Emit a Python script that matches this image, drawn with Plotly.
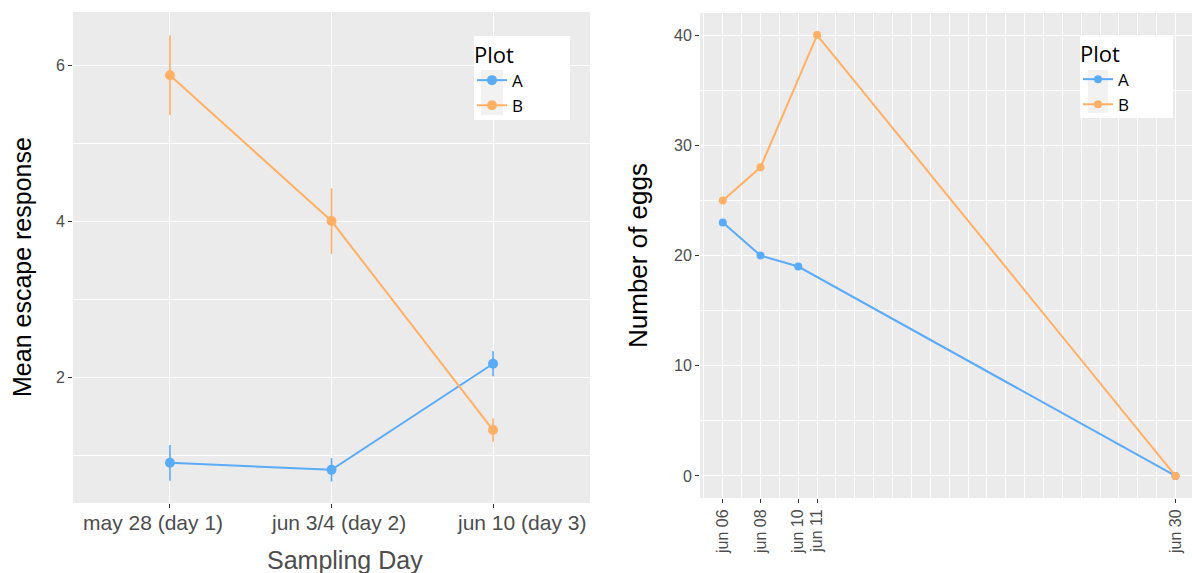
import plotly.graph_objects as go

# ---- Left panel data ----
days = ["may 28 (day 1)", "jun 3/4 (day 2)", "jun 10 (day 3)"]
day_pos = [0, 1, 2]
escape_A = [0.90, 0.81, 2.17]
escape_A_err = [0.23, 0.15, 0.16]
escape_B = [5.87, 4.00, 1.32]
escape_B_err = [0.51, 0.42, 0.15]

# ---- Right panel data ----
dates_A = ["2019-06-06", "2019-06-08", "2019-06-10", "2019-06-30"]
eggs_A = [23, 20, 19, 0]
dates_B = ["2019-06-06", "2019-06-08", "2019-06-11", "2019-06-30"]
eggs_B = [25, 28, 40, 0]
date_ticks = ["2019-06-06", "2019-06-08", "2019-06-10", "2019-06-11", "2019-06-30"]
date_ticktext = ["jun 06", "jun 08", "jun 10", "jun 11", "jun 30"]

COL_A = "#5aabf8"
COL_B = "#ffb064"
PANEL = "#ebebeb"
KEYBG = "#f2f2f2"
W, H = 1192, 573

def px(x):
    return x / W

def py(y):
    return 1 - y / H

fig = go.Figure()

fig.add_trace(go.Scatter(
    x=day_pos, y=escape_A, mode="lines+markers", name="A",
    line=dict(color=COL_A, width=2), marker=dict(color=COL_A, size=10),
    error_y=dict(type="data", array=escape_A_err, color=COL_A, thickness=1.6, width=0),
    xaxis="x", yaxis="y", legend="legend"))
fig.add_trace(go.Scatter(
    x=day_pos, y=escape_B, mode="lines+markers", name="B",
    line=dict(color=COL_B, width=2), marker=dict(color=COL_B, size=10),
    error_y=dict(type="data", array=escape_B_err, color=COL_B, thickness=1.6, width=0),
    xaxis="x", yaxis="y", legend="legend"))

fig.add_trace(go.Scatter(
    x=dates_A, y=eggs_A, mode="lines+markers", name="A",
    line=dict(color=COL_A, width=2), marker=dict(color=COL_A, size=8),
    xaxis="x2", yaxis="y2", legend="legend2"))
fig.add_trace(go.Scatter(
    x=dates_B, y=eggs_B, mode="lines+markers", name="B",
    line=dict(color=COL_B, width=2), marker=dict(color=COL_B, size=8),
    xaxis="x2", yaxis="y2", legend="legend2"))

FONT = "Liberation Sans, Arial"
tickfont = dict(family=FONT, size=16, color="#4d4d4d")
legfont = "Open Sans, Noto Sans"

shapes = [
    dict(type="rect", xref="paper", yref="paper", x0=px(474), x1=px(570), y0=py(120), y1=py(36),
         fillcolor="white", line=dict(width=0), layer="above"),
    dict(type="rect", xref="paper", yref="paper", x0=px(1080), x1=px(1173), y0=py(118), y1=py(35),
         fillcolor="white", line=dict(width=0), layer="above"),
    dict(type="rect", xref="paper", yref="paper", x0=px(481), x1=px(503), y0=py(115), y1=py(70),
         fillcolor=KEYBG, line=dict(width=0), layer="above"),
    dict(type="rect", xref="paper", yref="paper", x0=px(1088), x1=px(1108), y0=py(113), y1=py(70),
         fillcolor=KEYBG, line=dict(width=0), layer="above"),
]

# x tick labels of the left panel (the reference spreads them slightly wider than the ticks)
label_centers = [153, 338, 521]
annotations = [
    dict(text=lab, xref="paper", yref="paper", x=px(cx), y=py(522),
         xanchor="center", yanchor="middle", showarrow=False,
         font=dict(family=FONT, size=21, color="#4d4d4d"))
    for lab, cx in zip(days, label_centers)
] + [
    dict(text="Sampling Day", xref="paper", yref="paper", x=px(345), y=py(560),
         xanchor="center", yanchor="middle", showarrow=False,
         font=dict(family=FONT, size=25, color="#4d4d4d")),
    dict(text="Mean escape response", xref="paper", yref="paper", x=px(22), y=py(267),
         xanchor="center", yanchor="middle", showarrow=False, textangle=-90,
         font=dict(family=FONT, size=25, color="black")),
]

fig.update_layout(
    width=W, height=H,
    margin=dict(l=0, r=0, t=0, b=0),
    paper_bgcolor="white",
    plot_bgcolor=PANEL,
    xaxis=dict(
        domain=[px(73), px(590)], range=[-0.6, 2.6],
        tickvals=day_pos, ticktext=["", "", ""],
        showgrid=True, gridcolor="white", gridwidth=1.2, zeroline=False,
        ticks="outside", ticklen=4, tickcolor="#333333", showline=False,
        anchor="y"),
    yaxis=dict(
        domain=[py(503), py(12)], range=[0.385, 6.68],
        tick0=0, dtick=2, tickfont=tickfont,
        showgrid=True, gridcolor="white", gridwidth=1.2, zeroline=False,
        minor=dict(dtick=1, tick0=0, showgrid=True, gridcolor="white", gridwidth=0.6),
        ticks="outside", ticklen=4, tickcolor="#333333",
        anchor="x"),
    xaxis2=dict(
        domain=[px(700), 1.0], type="date",
        range=["2019-06-04 19:00", "2019-06-30 21:00"],
        tickvals=date_ticks, ticktext=date_ticktext, tickangle=-90, tickfont=tickfont,
        showgrid=True, gridcolor="white", gridwidth=1.2, zeroline=False,
        minor=dict(dtick=86400000, tick0="2019-06-05", showgrid=True, gridcolor="white", gridwidth=0.6),
        ticks="outside", ticklen=4, tickcolor="#333333",
        anchor="y2"),
    yaxis2=dict(
        domain=[py(498), py(13)], range=[-2, 42],
        tick0=0, dtick=10, tickfont=tickfont,
        showgrid=True, gridcolor="white", gridwidth=1.2, zeroline=False,
        minor=dict(dtick=5, tick0=0, showgrid=True, gridcolor="white", gridwidth=0.6),
        ticks="outside", ticklen=4, tickcolor="#333333",
        title=dict(text="Number of eggs", font=dict(family=FONT, size=26, color="black"), standoff=18),
        anchor="x2"),
    legend=dict(
        x=px(472), y=py(34), xanchor="left", yanchor="top",
        bgcolor="rgba(0,0,0,0)", borderwidth=0,
        title=dict(text="Plot", font=dict(family=legfont, size=22, color="black")),
        font=dict(family=legfont, size=17, color="black"),
        tracegroupgap=0, itemwidth=30),
    legend2=dict(
        x=px(1078), y=py(33), xanchor="left", yanchor="top",
        bgcolor="rgba(0,0,0,0)", borderwidth=0,
        title=dict(text="Plot", font=dict(family=legfont, size=22, color="black")),
        font=dict(family=legfont, size=17, color="black"),
        tracegroupgap=0, itemwidth=30),
    shapes=shapes,
    annotations=annotations,
)

fig.write_html("out.html")
